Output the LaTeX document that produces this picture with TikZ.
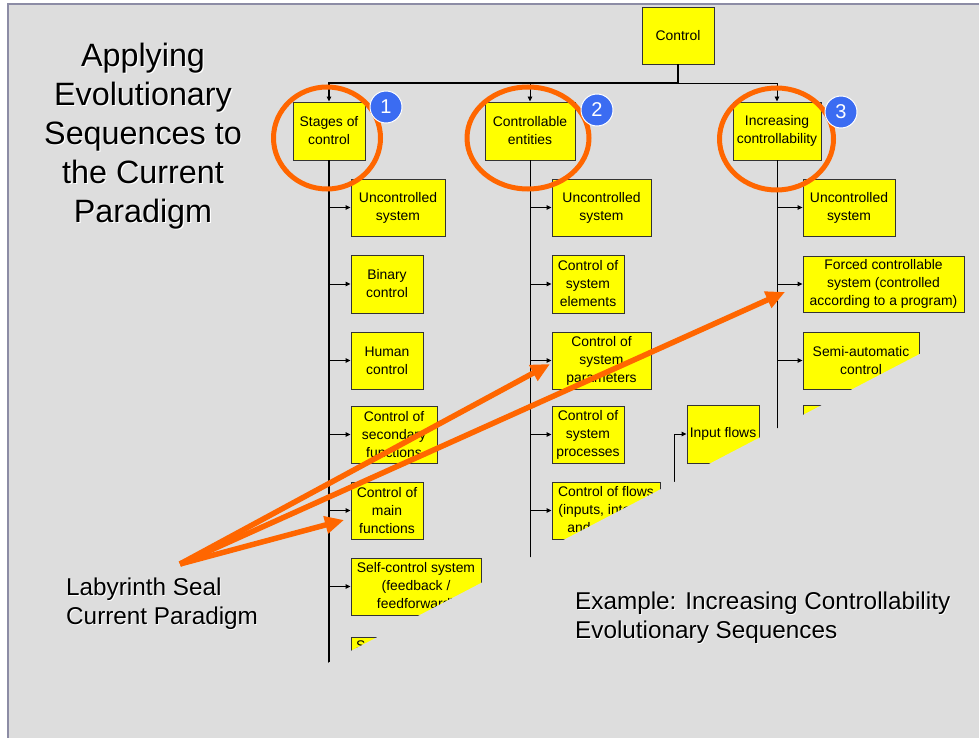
\documentclass[tikz,border=0pt]{standalone}
\usepackage{fontspec}
\setmainfont{Liberation Sans}
\usetikzlibrary{arrows.meta}
\definecolor{bgc}{RGB}{221,221,221}
\definecolor{bord}{RGB}{140,140,165}
\definecolor{org}{RGB}{255,102,0}
\definecolor{numblue}{RGB}{59,108,242}
\definecolor{ybox}{RGB}{255,255,0}
\newcommand\bx[6]{\node[ybx,minimum width={(#4-#2)*1pt},minimum height={(#5-#3)*1pt}] (#1) at ({(#2+#4)/2},{(#3+#5)/2}) {#6};}
\tikzset{
  ybx/.style={draw=black!80, line width=0.9pt, fill=ybox, inner sep=0pt, align=center,
     font=\fontsize{13.9}{18}\selectfont},
  conn/.style={draw=black, line width=0.9pt, -{Triangle[length=5pt,width=4.5pt]}},
  spine/.style={draw=black, line width=1pt},
  ring/.style={draw=org, line width=5pt},
  oarrow/.style={draw=org, line width=5.5pt, -{Triangle[length=19pt,width=17pt]}},
  numc/.style={circle, fill=numblue, draw=white, line width=1pt, minimum size=32pt, inner sep=0pt,
     text=white, font=\fontsize{20}{20}\selectfont},
  bigtxt/.style={align=center, inner sep=0pt, font=\fontsize{32.3}{39}\selectfont},
  midtxt/.style={align=left, anchor=west, inner sep=0pt, font=\fontsize{24.3}{29}\selectfont},
}
\begin{document}
\begin{tikzpicture}[x=1pt,y=-1pt]
\useasboundingbox (0,0) rectangle (979,738);
\fill[white] (0,0) rectangle (979,738);
\fill[bgc] (8,4) rectangle (979,738);
\draw[bord, line width=1.5pt] (8,738) -- (8,4) -- (979,4);

% boxes
\bx{ctrl}{642}{7}{714}{64}{Control}
\bx{s1}{293}{102}{365}{160}{Stages of\\control}
\bx{s2}{485}{102}{575}{160}{Controllable\\entities}
\bx{s3}{733}{102}{821}{160}{Increasing\\controllability}

\bx{a1}{351}{179}{445}{236}{Uncontrolled\\system}
\bx{a2}{351}{255}{423}{313}{Binary\\control}
\bx{a3}{351}{332}{423}{389}{Human\\control}
\bx{a4}{351}{406}{437}{463}{Control of\\secondary\\functions}
\bx{a5}{351}{482}{423}{539}{Control of\\main\\functions}
\bx{a6}{351}{558}{481}{615}{Self-control system\\(feedback /\\feedforward)}
\bx{a7}{351}{637}{481}{694}{}
\node[anchor=north west, inner sep=0pt, font=\fontsize{13.9}{18}\selectfont] (a7t) at (356,641) {S};

\bx{b1}{552}{179}{651}{236}{Uncontrolled\\system}
\bx{b2}{552}{255}{624}{313}{Control of\\system\\elements}
\bx{b3}{552}{332}{651}{389}{Control of\\system\\parameters}
\bx{b4}{552}{406}{624}{463}{Control of\\system\\processes}
\bx{b5}{552}{482}{660}{539}{Control of flows\\(inputs, internal\\and outputs)}

\bx{c1}{803}{179}{895}{236}{Uncontrolled\\system}
\bx{c2}{803}{256}{964}{312}{Forced controllable\\system (controlled\\according to a program)}
\bx{c3}{803}{332}{919}{389}{Semi-automatic\\control}
\bx{c4}{803}{405}{900}{462}{}
\bx{inp}{687}{405}{759}{463}{Input flows}

% tree connectors
\coordinate (bus) at (678,83);
\draw[line width=1.3pt] (ctrl.south) -- (bus);
\draw[conn, line width=1.3pt] (bus) -| (s1.north);
\draw[conn] (bus) -| (s2.north);
\draw[conn] (bus) -| (s3.north);

\coordinate (sp1) at (329,710);
\coordinate (sp2) at (530,710);
\coordinate (sp3) at (777,710);
\draw[spine, line width=1.7pt] (s1.south) -- (sp1);
\draw[spine] (s2.south) -- (sp2);
\draw[spine] (s3.south) -- (sp3);
\foreach \b in {a1,a2,a3,a4,a5,a6,a7}{\draw[conn] (s1.south |- \b.west) -- (\b.west);}
\foreach \b in {b1,b2,b3,b4,b5}{\draw[conn] (s2.south |- \b.west) -- (\b.west);}
\foreach \b in {c1,c2,c3,c4}{\draw[conn] (s3.south |- \b.west) -- (\b.west);}
\coordinate (inpsrc) at (674,540);
\draw[conn] (inpsrc) |- (inp.west);

% diagonal mask (partially revealed slide)
\fill[bgc] (300,677.5) -- (979,323) -- (979,738) -- (300,738) -- cycle;

% orange rings
\draw[ring] (327,138) ellipse [x radius=53.5pt, y radius=51pt];
\draw[ring] (528,138) ellipse [x radius=61pt, y radius=51pt];
\draw[ring] (776.5,139) ellipse [x radius=57pt, y radius=51pt];

% number badges
\node[numc] (n1) at (386,107) {1};
\node[numc] (n2) at (597,110) {2};
\node[numc] (n3) at (841,112) {3};

% orange arrows
\coordinate (lab) at (180,564);
\coordinate (t1) at (344,520);
\coordinate (t2) at (550,364);
\coordinate (t3) at (785,292);
\draw[oarrow] (lab) -- (t1);
\draw[oarrow] (lab) -- (t2);
\draw[oarrow] (lab) -- (t3);

% texts
\node[bigtxt, text=white] (ttlsh) at (144.2,137.2) {Applying\\Evolutionary\\Sequences to\\the Current\\Paradigm};
\node[bigtxt] (ttl) at (143,136) {Applying\\Evolutionary\\Sequences to\\the Current\\Paradigm};
\node[midtxt, text=white] (labsh) at (66.8,604.3) {Labyrinth Seal\\Current Paradigm};
\node[midtxt] (labt) at (66,603.5) {Labyrinth Seal\\Current Paradigm};
\node[midtxt, text=white] (exsh) at (575.8,618.3) {Example: Increasing Controllability\\Evolutionary Sequences};
\node[midtxt] (ext) at (575,617.5) {Example: Increasing Controllability\\Evolutionary Sequences};
\end{tikzpicture}
\end{document}
